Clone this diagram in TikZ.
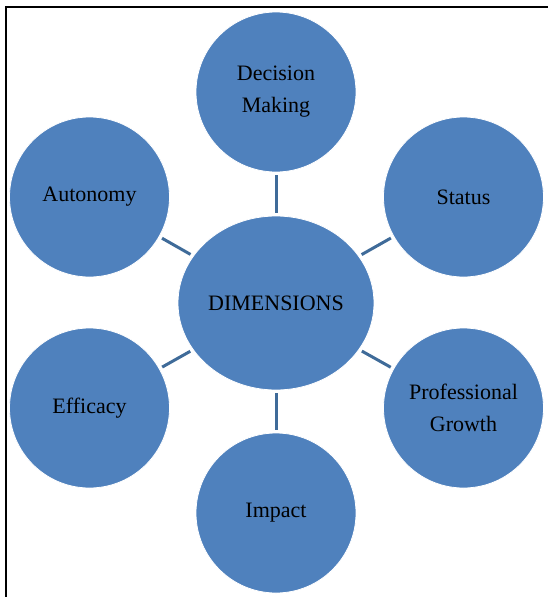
\documentclass[tikz,border=0pt]{standalone}
\usepackage{fontspec}
\setmainfont{Liberation Serif}
\usetikzlibrary{shapes.geometric}
\definecolor{bubbleblue}{HTML}{4F81BD}
\definecolor{linkblue}{HTML}{3F6B99}
\begin{document}
\begin{tikzpicture}[
    x=1pt, y=-1pt,
    every node/.style={font=\fontsize{22}{32}\selectfont, align=center},
    bubble/.style={circle, fill=bubbleblue, draw=white, line width=0.8pt,
      minimum size=160pt, inner sep=0pt},
    hub/.style={ellipse, fill=bubbleblue, draw=white, line width=0.8pt,
      minimum width=196pt, minimum height=174pt, inner sep=0pt},
    link/.style={draw=linkblue, line width=3pt, shorten <=3pt, shorten >=3pt}
  ]
  \useasboundingbox (0,0) rectangle (548,597);
  \draw[line width=2pt] (5.5,597) -- (5.5,6.5) -- (548,6.5);

  \node[hub] (dim) at (276,303) {DIMENSIONS};
  \node[bubble] (decision) at (276,92) {Decision\\Making};
  \node[bubble] (autonomy) at (89.5,197) {Autonomy};
  \node[bubble] (status) at (463.5,197) {Status};
  \node[bubble] (efficacy) at (89.5,408) {Efficacy};
  \node[bubble] (growth) at (463.5,408) {Professional\\Growth};
  \node[bubble] (impact) at (276,513) {Impact};

  \draw[link] (dim) -- (decision);
  \draw[link] (dim) -- (autonomy);
  \draw[link] (dim) -- (status);
  \draw[link] (dim) -- (efficacy);
  \draw[link] (dim) -- (growth);
  \draw[link] (dim) -- (impact);
\end{tikzpicture}
\end{document}
